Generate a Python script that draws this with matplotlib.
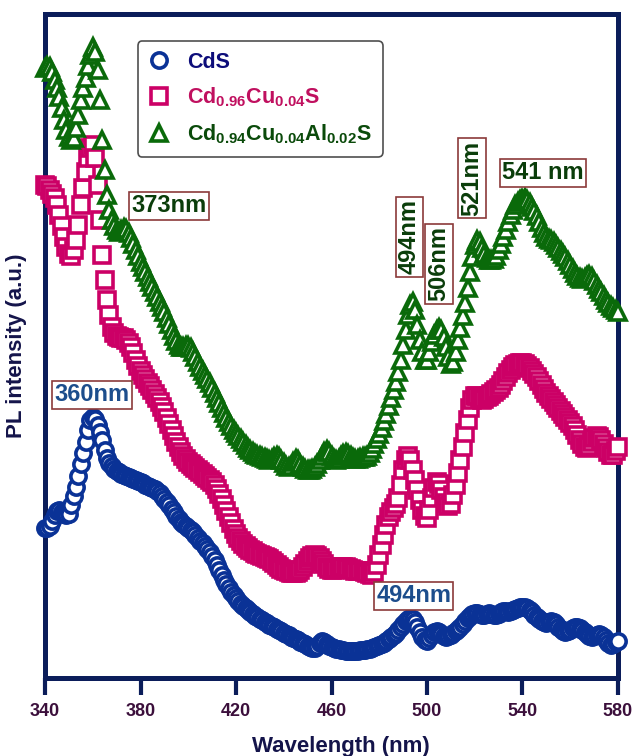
import matplotlib
matplotlib.use("Agg")
import matplotlib.pyplot as plt
import numpy as np

plt.rcParams['font.family'] = ['Liberation Sans', 'DejaVu Sans']
plt.rcParams['font.weight'] = 'bold'
plt.rcParams['mathtext.fontset'] = 'custom'
for key in ('rm', 'it', 'bf', 'sf'):
    plt.rcParams['mathtext.' + key] = 'Liberation Sans:bold'
plt.rcParams['mathtext.default'] = 'rm'

# Wavelength grid (nm), 1 nm steps from 340 to 580
wavelength = np.arange(340, 581)

# PL intensity (a.u.)
cds = [
    472, 472, 474, 479, 485, 489, 490, 488, 486, 485,
    486, 495, 504, 513, 524, 536, 547, 558, 570, 580,
    583, 581, 575, 568, 560, 550, 542, 537, 534, 531,
    529, 528, 526, 525, 524, 523, 522, 521, 520, 519,
    518, 517, 515, 514, 513, 512, 511, 509, 507, 504,
    501, 498, 495, 491, 488, 484, 481, 478, 476, 474,
    472, 470, 468, 465, 462, 459, 457, 454, 451, 448,
    444, 440, 435, 430, 425, 420, 416, 412, 408, 405,
    402, 399, 396, 394, 392, 390, 388, 386, 384, 383,
    381, 380, 378, 377, 375, 374, 373, 371, 370, 369,
    367, 366, 365, 363, 362, 361, 360, 358, 357, 356,
    354, 353, 352, 352, 354, 357, 359, 358, 356, 354,
    353, 352, 351, 351, 350, 350, 349, 349, 349, 349,
    349, 349, 350, 350, 350, 351, 351, 352, 353, 354,
    355, 356, 357, 359, 361, 363, 365, 367, 370, 373,
    376, 379, 381, 382, 381, 378, 373, 368, 363, 360,
    359, 362, 365, 368, 369, 368, 366, 364, 363, 364,
    365, 367, 369, 371, 373, 376, 379, 382, 384, 386,
    387, 387, 386, 385, 385, 386, 387, 386, 385, 385,
    386, 388, 389, 389, 388, 389, 390, 391, 392, 393,
    393, 393, 392, 390, 388, 385, 383, 381, 379, 378,
    377, 378, 379, 378, 376, 373, 371, 369, 368, 369,
    370, 372, 373, 373, 372, 370, 368, 366, 364, 363,
    364, 365, 366, 365, 363, 360, 357, 355, 356, 358,
    359,
]

cd_cu = [
    815, 814, 810, 806, 802, 795, 785, 774, 763, 753,
    746, 744, 750, 760, 775, 795, 812, 828, 842, 852,
    855, 842, 815, 780, 745, 720, 700, 685, 673, 667,
    664, 663, 662, 662, 660, 657, 653, 647, 640, 634,
    629, 625, 621, 617, 614, 610, 606, 602, 598, 593,
    588, 582, 576, 570, 564, 558, 553, 548, 544, 541,
    538, 536, 534, 532, 530, 528, 526, 524, 522, 520,
    518, 515, 511, 506, 501, 495, 489, 483, 477, 471,
    466, 462, 459, 456, 454, 452, 450, 449, 447, 446,
    445, 444, 443, 442, 441, 439, 437, 435, 433, 431,
    430, 429, 428, 427, 427, 427, 428, 430, 433, 436,
    439, 442, 444, 445, 444, 442, 439, 436, 433, 431,
    430, 430, 431, 432, 433, 433, 433, 432, 431, 430,
    429, 429, 429, 429, 428, 427, 426, 425, 428, 435,
    445, 455, 465, 475, 483, 488, 492, 496, 502, 515,
    530, 540, 544, 540, 530, 520, 510, 500, 490, 484,
    482, 490, 502, 512, 518, 516, 510, 503, 497, 494,
    496, 505, 515, 527, 540, 553, 567, 580, 592, 600,
    604, 604, 602, 600, 601, 603, 604, 606, 608, 610,
    612, 615, 619, 623, 627, 630, 633, 635, 636, 637,
    637, 636, 634, 632, 629, 626, 623, 619, 615, 611,
    607, 604, 601, 598, 595, 592, 589, 586, 583, 580,
    577, 574, 570, 565, 560, 556, 553, 552, 554, 558,
    562, 564, 563, 560, 556, 552, 548, 545, 545, 549,
    553,
]

cd_cu_al = [
    932, 934, 933, 928, 920, 912, 903, 892, 880, 870,
    863, 860, 862, 872, 885, 900, 912, 922, 934, 945,
    953, 948, 930, 900, 860, 830, 805, 790, 780, 774,
    770, 768, 770, 772, 771, 767, 762, 756, 750, 744,
    738, 733, 728, 723, 718, 713, 708, 703, 698, 693,
    688, 682, 676, 670, 664, 659, 655, 653, 653, 654,
    654, 652, 648, 643, 638, 633, 629, 625, 621, 617,
    612, 607, 602, 597, 592, 587, 582, 578, 574, 570,
    567, 564, 561, 558, 555, 552, 550, 548, 546, 545,
    544, 543, 542, 541, 540, 541, 543, 544, 543, 540,
    537, 534, 533, 534, 538, 541, 540, 536, 533, 531,
    530, 530, 531, 533, 536, 540, 544, 548, 550, 548,
    544, 541, 540, 541, 544, 546, 547, 546, 544, 542,
    541, 541, 542, 543, 543, 544, 547, 551, 556, 561,
    566, 572, 579, 586, 594, 602, 610, 618, 628, 640,
    655, 670, 685, 695, 698, 690, 675, 660, 648, 640,
    640, 648, 658, 665, 670, 672, 670, 663, 653, 643,
    636, 638, 648, 660, 672, 684, 697, 712, 728, 743,
    755, 760, 758, 752, 746, 742, 740, 740, 741, 744,
    750, 756, 763, 770, 778, 785, 790, 795, 798, 800,
    801, 802, 800, 797, 793, 789, 784, 778, 772, 767,
    763, 761, 760, 758, 755, 752, 749, 746, 743, 739,
    735, 731, 727, 724, 722, 721, 722, 724, 725, 723,
    719, 715, 711, 708, 704, 700, 697, 694, 692, 690,
    688,
]

series_labels = ['CdS', r'Cd$_{0.96}$Cu$_{0.04}$S', r'Cd$_{0.94}$Cu$_{0.04}$Al$_{0.02}$S']
series_markers = ['o', 's', '^']
series_colors = ['#0a3296', '#cc0066', '#0a6a0a']
legend_text_colors = ['#0d0d7a', '#c0105f', '#0a4a0a']

# Peak labels: (text, wavelength, intensity, rotation, colour)
peak_labels = [
    ('360nm', 359.7, 605, 0, '#1c4d8c'),
    ('494nm', 494.4, 404, 0, '#1c4d8c'),
    ('373nm', 392.0, 794, 0, '#0a3d0a'),
    ('541 nm', 548.6, 827, 0, '#0a3d0a'),
    ('521nm', 518.8, 822, 90, '#0a3d0a'),
    ('494nm', 492.7, 763, 90, '#0a3d0a'),
    ('506nm', 504.9, 736, 90, '#0a3d0a'),
]

x_ticks = [340, 380, 420, 460, 500, 540, 580]

navy = '#0b1d5a'

fig = plt.figure(figsize=(6.33, 7.56), dpi=100)
ax = fig.add_axes([0.0711, 0.1032, 0.9052, 0.8783])

for values, label, marker, color in zip([cds, cd_cu, cd_cu_al], series_labels,
                                        series_markers, series_colors):
    ax.plot(wavelength, values, ls='none', marker=marker, ms=11,
            mfc='white', mec=color, mew=2.6, label=label,
            clip_on=False, zorder=3)

ax.set_xlim(340, 580)
ax.set_ylim(322, 986)

for side in ('left', 'right', 'top', 'bottom'):
    ax.spines[side].set_color(navy)
    ax.spines[side].set_linewidth(3.6)

ax.set_xticks(x_ticks)
ax.tick_params(axis='x', direction='out', length=12, width=3, color=navy,
               pad=6, labelsize=13, labelcolor='#3b0f3b')
ax.set_yticks([])

ax.set_xlabel('Wavelength (nm)', fontsize=16, fontweight='bold', color='#14144a')
ax.xaxis.set_label_coords(0.517, -0.088)
ax.set_ylabel('PL intensity (a.u.)', fontsize=16, fontweight='bold', color='#14144a')
ax.yaxis.set_label_coords(-0.031, 0.5)

for text, x, y, rot, color in peak_labels:
    ax.text(x, y, text, ha='center', va='center', rotation=rot, fontsize=17,
            fontweight='bold', color=color, zorder=5,
            bbox=dict(boxstyle='square,pad=0.1', fc='white', ec='#8b3a3a', lw=1.2))

leg = ax.legend(loc='upper left', bbox_to_anchor=(0.162, 0.959), borderaxespad=0,
                frameon=True, fancybox=True, edgecolor='#222222', fontsize=15.5,
                handlelength=1.0, handletextpad=0.8, labelspacing=0.6,
                borderpad=0.5, numpoints=1)
leg.get_frame().set_linewidth(1.2)
for txt, c in zip(leg.get_texts(), legend_text_colors):
    txt.set_color(c)
leg.set_zorder(6)

fig.savefig('out.png', dpi=100)
